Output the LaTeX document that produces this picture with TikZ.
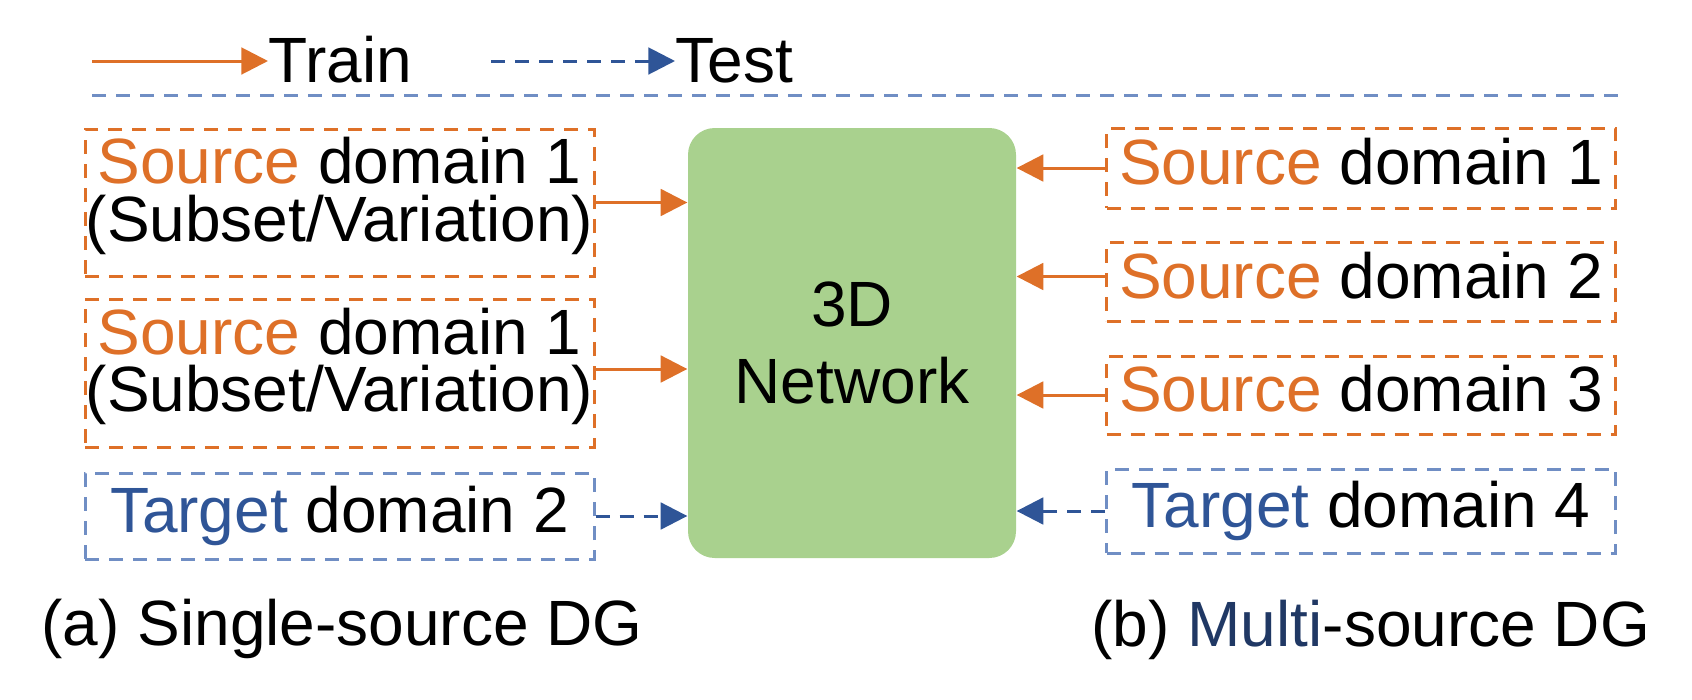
\documentclass[tikz,border=0pt]{standalone}
\usepackage{fontspec}
\setmainfont{Liberation Sans}
\usepackage{tikz}
\usetikzlibrary{arrows.meta}
\definecolor{srcorange}{RGB}{222,112,40}
\definecolor{tgtblue}{RGB}{47,85,151}
\definecolor{lineblue}{RGB}{112,142,196}
\definecolor{netgreen}{RGB}{169,209,142}
\definecolor{navyblue}{RGB}{32,56,100}
\newcommand{\dgfont}{\fontsize{19.2}{17.2}\selectfont}
\tikzstyle{srcbox} = [draw=srcorange, line width=0.9pt, dash pattern=on 4.2pt off 3pt, rectangle, minimum width=152.7pt, inner sep=0pt, align=center, font=\dgfont]
\tikzstyle{tgtbox} = [srcbox, draw=lineblue]
\tikzstyle{oneline} = [text height=14pt, text depth=4pt]
\tikzstyle{netbox} = [fill=netgreen, rectangle, rounded corners=8pt, minimum width=98.4pt, minimum height=129pt, align=center, font=\fontsize{19.2}{23.1}\selectfont]
\tikzstyle{trainarrow} = [draw=srcorange, line width=0.9pt, -{Triangle[length=8pt,width=8pt]}]
\tikzstyle{testarrow} = [draw=tgtblue, line width=0.9pt, dash pattern=on 4.2pt off 3pt, -{Triangle[length=8pt,width=8pt]}]
\tikzstyle{txt} = [inner sep=0pt, anchor=base west, font=\dgfont, text height=14pt, text depth=4pt]

\begin{document}
\begin{tikzpicture}[x=0.3pt, y=-0.3pt]
    \useasboundingbox (0,0) rectangle (1692,699);

    % legend
    \coordinate (trs) at (92,61);
    \node [txt] (train) at (268,82) {Train};
    \draw [trainarrow] (trs) -- (trs -| train.west);
    \coordinate (tss) at (491,61);
    \node [txt] (test) at (675,82) {Test};
    \draw [testarrow] (tss) -- (tss -| test.west);
    \coordinate (sepl) at (92,95);
    \coordinate (sepr) at (1619,95);
    \draw [lineblue, line width=0.9pt, dash pattern=on 4.2pt off 3pt] (sepl) -- (sepr);

    % network
    \node [netbox] (net) at (852,343) {3D\\Network};

    % (a) single source
    \node [srcbox, minimum height=44.1pt] (sa1) at (339.5,202.5) {\textcolor{srcorange}{Source} domain 1\\(Subset/Variation)\rule[-8pt]{0pt}{1pt}};
    \node [srcbox, minimum height=44.4pt] (sa2) at (339.5,373) {\textcolor{srcorange}{Source} domain 1\\(Subset/Variation)\rule[-8pt]{0pt}{1pt}};
    \node [tgtbox, oneline, minimum height=25.8pt] (ta) at (339.5,516) {\textcolor{tgtblue}{Target} domain 2};
    \draw [trainarrow] (sa1.east) -- (sa1.east -| net.west);
    \draw [trainarrow] ([yshift=1.2pt]sa2.east) -- ([yshift=1.2pt]sa2.east -| net.west);
    \draw [testarrow] (ta.east) -- (ta.east -| net.west);

    % (b) multi source
    \node [srcbox, oneline, minimum height=24pt] (sb1) at (1361,168) {\textcolor{srcorange}{Source} domain 1};
    \node [srcbox, oneline, minimum height=23.7pt] (sb2) at (1361,281.5) {\textcolor{srcorange}{Source} domain 2};
    \node [srcbox, oneline, minimum height=23.4pt] (sb3) at (1361,395) {\textcolor{srcorange}{Source} domain 3};
    \node [tgtbox, oneline, minimum height=25.2pt] (tb) at (1361,511) {\textcolor{tgtblue}{Target} domain 4};
    \draw [trainarrow] (sb1.west) -- (sb1.west -| net.east);
    \draw [trainarrow] ([yshift=1.5pt]sb2.west) -- ([yshift=1.5pt]sb2.west -| net.east);
    \draw [trainarrow] (sb3.west) -- (sb3.west -| net.east);
    \draw [testarrow] (tb.west) -- (tb.west -| net.east);

    % captions
    \node [txt] (capa) at (41,645) {(a) Single-source DG};
    \node [txt] (capb) at (1091,646) {(b) \textcolor{navyblue}{Multi}-source DG};
\end{tikzpicture}
\end{document}
